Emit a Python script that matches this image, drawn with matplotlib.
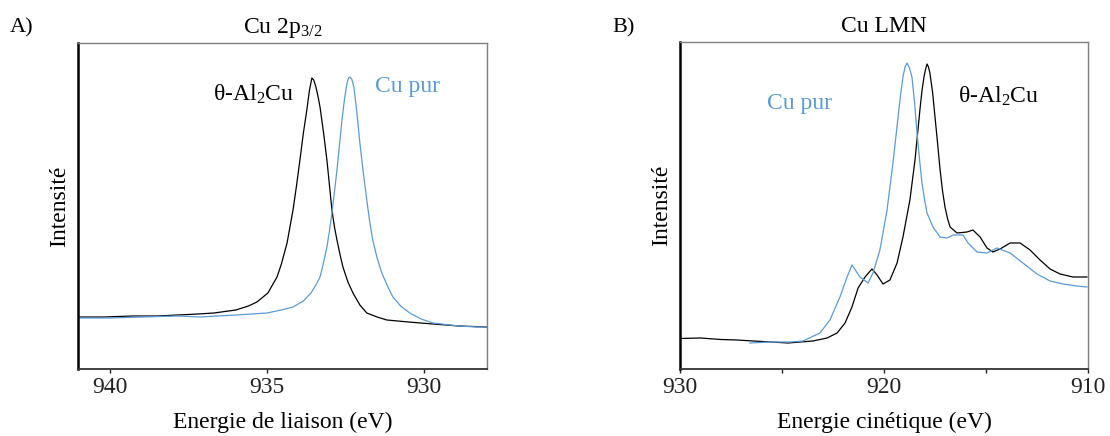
import numpy as np
import matplotlib
matplotlib.use("Agg")
from matplotlib import pyplot as plt

plt.rcParams['font.family'] = ['Liberation Serif', 'DejaVu Serif']
plt.rcParams['mathtext.fontset'] = 'custom'
plt.rcParams['mathtext.rm'] = 'Liberation Serif'
plt.rcParams['mathtext.it'] = 'Liberation Serif:italic'

BLUE = '#5B9BD5'
FS = 17

# A) Cu 2p3/2 - energie de liaison (eV) / intensite (u.a.)
e_2p_al2cu = [941.03, 940.2, 939.3, 938.5, 937.85, 937.2, 936.70, 936.00, 935.60, 935.33,
              934.98, 934.69, 934.55, 934.37, 934.18, 934.07, 933.96, 933.85, 933.74, 933.66,
              933.58, 933.52, 933.45, 933.38, 933.32, 933.21, 933.10, 933.02, 932.94, 932.86,
              932.78, 932.68, 932.59, 932.43, 932.27, 932.05, 931.83, 931.50, 931.19, 930.5,
              929.72, 928.9, 928.0]
i_2p_al2cu = [52, 52, 53, 53, 54, 55, 56, 59, 63, 67,
              76, 92, 105, 126, 159, 183, 209, 236, 259, 278,
              291, 289, 282, 272, 262, 237, 209, 184, 159, 142,
              129, 114, 102, 87, 76, 64, 56, 52, 49, 47,
              45, 43, 42]

e_2p_cu = [941.03, 940.0, 939.0, 937.83, 937.15, 936.0, 935.01, 934.55, 934.18, 933.85,
           933.61, 933.45, 933.32, 933.21, 933.10, 933.02, 932.94, 932.86, 932.78, 932.70,
           932.62, 932.54, 932.46, 932.41, 932.37, 932.31, 932.24, 932.15, 932.05, 931.94,
           931.83, 931.74, 931.64, 931.50, 931.35, 931.17, 931.00, 930.75, 930.46, 930.1,
           929.72, 928.9, 928.32, 928.0]
i_2p_cu = [51, 51, 52, 53, 52, 54, 56, 59, 62, 68,
           76, 84, 92, 106, 122, 138, 156, 177, 199, 224,
           249, 270, 286, 291, 292, 290, 282, 258, 226, 196,
           169, 148, 129, 111, 96, 83, 72, 63, 56, 50,
           46, 43, 42, 42]

# B) Cu LMN - energie cinetique (eV) / intensite (u.a.)
e_lmn_al2cu = [930.00, 929.0, 927.99, 927.2, 926.42, 925.5, 924.71, 923.48, 922.79, 922.30,
               921.91, 921.57, 921.27, 920.93, 920.59, 920.34, 920.05, 919.71, 919.36, 919.07,
               918.73, 918.48, 918.24, 918.14, 918.04, 917.96, 917.89, 917.82, 917.75, 917.62,
               917.50, 917.37, 917.25, 917.13, 917.01, 916.88, 916.76, 916.42, 915.93, 915.64,
               915.29, 914.95, 914.66, 914.31, 913.82, 913.33, 912.84, 912.35, 911.86, 911.37,
               910.74, 910.05]
i_lmn_al2cu = [30.5, 31, 29.5, 29, 28, 27, 26, 28, 31, 36,
               46, 62, 81, 92, 100, 94, 85, 89, 106, 132,
               169, 209, 259, 278, 292, 300, 305, 302, 296, 277,
               252, 225, 199, 178, 162, 150, 142, 136, 137, 139,
               132, 121, 117, 120, 126, 126, 119, 109, 100, 95,
               92, 92]

e_lmn_cu = [926.57, 925.59, 924.6, 923.97, 923.14, 922.65, 922.16, 921.81, 921.57, 921.18,
            920.78, 920.54, 920.20, 919.85, 919.56, 919.31, 919.19, 919.07, 918.97, 918.87,
            918.75, 918.63, 918.50, 918.38, 918.26, 918.14, 918.00, 917.89, 917.60, 917.25,
            916.91, 916.62, 916.13, 915.88, 915.44, 914.95, 914.46, 913.82, 913.19, 912.50,
            911.86, 911.23, 910.54, 910.05]
i_lmn_cu = [26, 27, 27, 28, 36, 49, 72, 92, 104, 92,
            86, 96, 119, 159, 206, 252, 274, 292, 302, 306,
            301, 292, 266, 236, 210, 186, 168, 156, 142, 132,
            131, 134, 134, 126, 117, 116, 121, 116, 106, 95,
            88, 85, 83, 82]


def style_axes(ax):
    ax.spines['left'].set_linewidth(1.8)
    ax.spines['left'].set_color('black')
    ax.spines['bottom'].set_linewidth(1.3)
    ax.spines['bottom'].set_color('#333333')
    for s in ('top', 'right'):
        ax.spines[s].set_linewidth(1.0)
        ax.spines[s].set_color('#7f7f7f')
    ax.set_yticks([])
    ax.tick_params(axis='x', direction='out', length=3, width=1, pad=3,
                   labelsize=FS, colors='#222222')
    ax.set_ylabel('Intensité', fontsize=FS, labelpad=6)


fig = plt.figure(figsize=(11.1, 4.36), dpi=100)
ax1 = fig.add_axes([78 / 1110, 67 / 436, 409 / 1110, 326 / 436])
ax2 = fig.add_axes([680 / 1110, 67 / 436, 408 / 1110, 327 / 436])

# --- A) Cu 2p3/2
ax1.plot(e_2p_al2cu, i_2p_al2cu, color='black', lw=0.9)
ax1.plot(e_2p_cu, i_2p_cu, color=BLUE, lw=0.9)
ax1.set_xlim(941.03, 928)
ax1.set_ylim(0, 326)
ax1.set_xticks([940, 935, 930])
style_axes(ax1)
ax1.set_xlabel('Energie de liaison (eV)', fontsize=FS, labelpad=10)
ax1.set_title('Cu 2p$_{3/2}$', fontsize=FS, pad=7)
ax1.text(0.429, 0.822, 'θ-Al$_2$Cu', transform=ax1.transAxes, ha='center',
         va='baseline', fontsize=FS, color='black')
ax1.text(0.806, 0.850, 'Cu pur', transform=ax1.transAxes, ha='center',
         va='baseline', fontsize=FS, color=BLUE)

# --- B) Cu LMN
ax2.plot(e_lmn_al2cu, i_lmn_al2cu, color='black', lw=0.9)
ax2.plot(e_lmn_cu, i_lmn_cu, color=BLUE, lw=0.9)
ax2.set_xlim(930, 910)
ax2.set_ylim(0, 327)
ax2.set_xticks([930, 925, 920, 915, 910])
ax2.set_xticklabels(['930', '', '920', '', '910'])
style_axes(ax2)
ax2.set_xlabel('Energie cinétique (eV)', fontsize=FS, labelpad=10)
ax2.set_title('Cu LMN', fontsize=FS, pad=7)
ax2.text(0.293, 0.795, 'Cu pur', transform=ax2.transAxes, ha='center',
         va='baseline', fontsize=FS, color=BLUE)
ax2.text(0.781, 0.813, 'θ-Al$_2$Cu', transform=ax2.transAxes, ha='center',
         va='baseline', fontsize=FS, color='black')

fig.text(10 / 1110, 1 - 32 / 436, 'A)', fontsize=16, va='baseline')
fig.text(612 / 1110, 1 - 32 / 436, 'B)', fontsize=16, va='baseline')

fig.savefig('out.png', dpi=100)
